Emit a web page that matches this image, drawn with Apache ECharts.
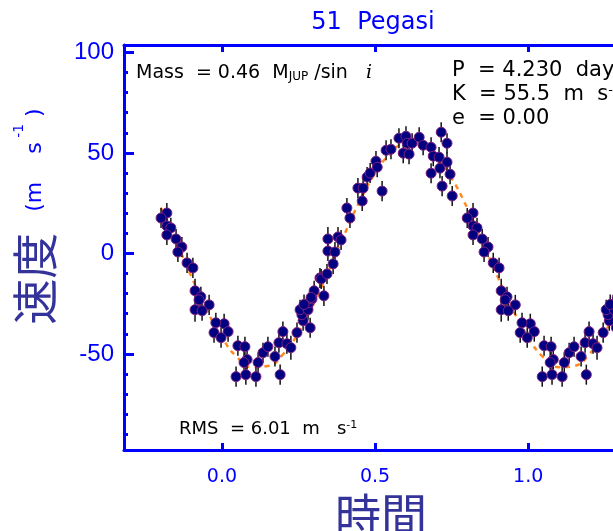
<!DOCTYPE html>
<html lang="en">
<head>
<meta charset="UTF-8">
<title>51 Pegasi</title>
<script src="https://cdn.jsdelivr.net/npm/echarts@6/dist/echarts.min.js"></script>
<style>html,body{margin:0;padding:0;background:#fff;}</style>
</head>
<body>
<div id="main" style="width:613px;height:531px;"></div>
<script>
// phase-folded radial velocities, phase in [0,1)
var phases = [
    0.007, 0.020, 0.052, 0.075, 0.082, 0.072, 0.118, 0.134, 0.150, 0.173,
    0.046, 0.078, 0.111, 0.190, 0.199, 0.186, 0.212, 0.225, 0.245, 0.288,
    0.265, 0.261, 0.255, 0.281, 0.284, 0.294, 0.301, 0.320, 0.291, 0.333,
    0.324, 0.343, 0.363, 0.346, 0.369, 0.346, 0.379, 0.389, 0.408, 0.418,
    0.458, 0.444, 0.461, 0.523, 0.474, 0.484, 0.503, 0.507, 0.536, 0.552,
    0.578, 0.601, 0.605, 0.592, 0.611, 0.621, 0.644, 0.657, 0.683, 0.690,
    0.709, 0.716, 0.735, 0.735, 0.712, 0.683, 0.745, 0.719, 0.752, 0.820,
    0.801, 0.820, 0.833, 0.820, 0.850, 0.869, 0.856, 0.886, 0.905, 0.912,
    0.931, 0.925, 0.958, 0.912, 0.935, 0.980, 0.974, 0.997, 0.268
];
var velocities = [
    -35.0, -38.9, -45.9, -46.4, -52.8, -54.3, -54.3, -49.4, -46.4, -51.3,
    -61.3, -60.3, -61.3, -60.3, -38.9, -44.4, -44.9, -46.9, -39.4, -37.0,
    -33.5, -30.5, -28.0, -28.0, -24.6, -22.6, -18.6, -12.2, -21.9, -21.1,
    -12.7, -10.2, -5.2, 1.2, 0.7, 7.2, 8.2, 6.7, 22.6, 17.6,
    26.1, 32.5, 32.5, 31.0, 38.0, 40.0, 45.9, 42.9, 51.3, 51.8,
    57.3, 58.3, 54.8, 49.9, 49.4, 54.8, 57.8, 53.8, 52.8, 48.4,
    47.9, 60.3, 54.8, 45.4, 42.4, 39.9, 39.4, 33.5, 28.6, 20.1,
    17.6, 13.7, 12.7, 9.2, 7.2, 3.2, 0.7, -4.7, -7.2, -18.6,
    -21.6, -23.1, -25.6, -28.0, -28.5, -34.5, -39.4, -41.9, -25.4
];
var errors = [
    5, 5, 5, 5, 5, 6, 5, 5, 5, 5,
    5, 5, 5, 5, 5, 5, 5, 6, 5, 5,
    5, 5, 5, 5, 5, 5, 5, 5, 5, 5,
    5, 5, 5, 5, 5, 6, 5, 5, 5, 5,
    5, 5, 5, 5, 5, 5, 5, 5, 5, 5,
    5, 5, 5, 5, 5, 5, 5, 5, 5, 5,
    5, 5, 5, 5, 5, 5, 5, 5, 5, 5,
    5, 5, 5, 5, 5, 5, 5, 5, 5, 6,
    5, 5, 5, 6, 5, 5, 5, 5, 5
];
// dashed orbit fit, read every 0.05 in phase
var fitPhases = [
    -0.20, -0.15, -0.10, -0.05, 0.00, 0.05, 0.10, 0.15, 0.20, 0.25, 0.30,
    0.35, 0.40, 0.45, 0.50, 0.55, 0.60, 0.65, 0.70, 0.75, 0.80,
    0.85, 0.90, 0.95, 1.00, 1.05, 1.10, 1.15, 1.20, 1.25, 1.30
];
var fitValues = [
    22.9, 6.0, -11.5, -28.0, -41.8, -51.7, -56.6, -56.0, -50.1, -39.4, -24.9,
    -8.0, 9.5, 26.0, 39.8, 49.7, 54.6, 54.0, 48.1, 37.4, 22.9,
    6.0, -11.5, -28.0, -41.8, -51.7, -56.6, -56.0, -50.1, -39.4, -24.9
];
var xTicks = [0, 0.5, 1.0];
var yTicks = [-50, 0, 50, 100];
var yMinorTicks = [-90, -80, -70, -60, -40, -30, -20, -10, 10, 20, 30, 40, 60, 70, 80, 90];

// repeat the folded data one cycle either side, as in the plot
var points = [];
for (var i = 0; i < phases.length; i++) {
    points.push([phases[i], velocities[i], errors[i]]);
    if (phases[i] >= 0.79) points.push([phases[i] - 1, velocities[i], errors[i]]);
    if (phases[i] <= 0.3) points.push([phases[i] + 1, velocities[i], errors[i]]);
}
var fit = [];
for (var j = 0; j < fitPhases.length; j++) fit.push([fitPhases[j], fitValues[j]]);

var BLUE = '#0000ff';
var XMIN = -0.32, XMAX = 1.3, YMIN = -97.8, YMAX = 103.7;

var myChart = echarts.init(document.getElementById('main'));
var option = {
    animation: false,
    backgroundColor: '#fff',
    title: {
        text: '51  Pegasi',
        left: 373,
        top: 11,
        padding: 0,
        textAlign: 'center',
        textStyle: {color: BLUE, fontSize: 24, fontWeight: 'normal', fontFamily: 'DejaVu Sans'}
    },
    grid: {left: 124, top: 45, right: -7, bottom: 81, containLabel: false, outerBoundsMode: 'none'},
    xAxis: [{
        type: 'value', min: XMIN, max: XMAX, position: 'bottom',
        axisLine: {show: true, onZero: false, lineStyle: {color: BLUE, width: 3}},
        axisTick: {show: true, inside: true, length: 7, customValues: xTicks, lineStyle: {color: BLUE, width: 3}},
        axisLabel: {
            customValues: xTicks, margin: 18, color: BLUE, fontSize: 19, fontFamily: 'DejaVu Sans',
            formatter: function (v) { return v.toFixed(1); }
        },
        splitLine: {show: false},
        name: '時間', nameLocation: 'middle', nameGap: 37,
        nameTextStyle: {color: '#333399', fontSize: 46, fontFamily: 'Noto Sans CJK JP', padding: [0, 0, 0, 18]}
    }, {
        type: 'value', min: XMIN, max: XMAX, position: 'top',
        axisLine: {show: true, onZero: false, lineStyle: {color: BLUE, width: 3}},
        axisTick: {show: true, inside: true, length: 7, customValues: xTicks, lineStyle: {color: BLUE, width: 3}},
        axisLabel: {show: false},
        splitLine: {show: false}
    }],
    yAxis: [{
        type: 'value', min: YMIN, max: YMAX, position: 'left',
        axisLine: {show: true, onZero: false, lineStyle: {color: BLUE, width: 3}},
        axisTick: {show: true, inside: true, length: 10, customValues: yTicks, lineStyle: {color: BLUE, width: 3}},
        axisLabel: {customValues: yTicks, margin: 10, color: BLUE, fontSize: 24, fontFamily: 'Liberation Sans'},
        splitLine: {show: false},
        name: '{a|速度}{b|   (m    s}{c| -1}{b| )}',
        nameLocation: 'middle', nameGap: 66,
        nameTextStyle: {
            fontSize: 22, color: BLUE, padding: [0, 0, 0, 62],
            rich: {
                a: {fontSize: 46, color: '#333399', fontFamily: 'Noto Sans CJK JP'},
                b: {fontSize: 22, color: BLUE, fontFamily: 'DejaVu Sans'},
                c: {fontSize: 14, color: BLUE, fontFamily: 'DejaVu Sans', verticalAlign: 'top'}
            }
        }
    }, {
        type: 'value', min: YMIN, max: YMAX, position: 'left',
        axisLine: {show: false, onZero: false},
        axisTick: {show: true, inside: true, length: 4, customValues: yMinorTicks, lineStyle: {color: BLUE, width: 3}},
        axisLabel: {show: false},
        splitLine: {show: false}
    }],
    graphic: [{
        type: 'text', x: 136, y: 73,
        style: {
            text: '{n|Mass  = 0.46  M}{s|JUP}{n| /sin   }{i|i}',
            verticalAlign: 'middle',
            rich: {
                n: {fontSize: 19, fontFamily: 'DejaVu Sans', fill: '#000'},
                s: {fontSize: 12, fontFamily: 'DejaVu Sans', fill: '#000', verticalAlign: 'bottom'},
                i: {fontSize: 19, fontFamily: 'DejaVu Serif', fontStyle: 'italic', fill: '#000'}
            }
        }
    }, {
        type: 'text', x: 452, y: 71,
        style: {text: 'P  = 4.230  day', font: '21px "DejaVu Sans"', fill: '#000', verticalAlign: 'middle'}
    }, {
        type: 'text', x: 452, y: 95,
        style: {
            text: '{n|K  = 55.5  m  s}{p|-1}', verticalAlign: 'middle',
            rich: {
                n: {fontSize: 21, fontFamily: 'DejaVu Sans', fill: '#000'},
                p: {fontSize: 13, fontFamily: 'DejaVu Sans', fill: '#000', verticalAlign: 'top'}
            }
        }
    }, {
        type: 'text', x: 452, y: 119,
        style: {text: 'e  = 0.00', font: '21px "DejaVu Sans"', fill: '#000', verticalAlign: 'middle'}
    }, {
        type: 'text', x: 179, y: 429,
        style: {
            text: '{n|RMS  = 6.01  m   s}{p|-1}', verticalAlign: 'middle',
            rich: {
                n: {fontSize: 18, fontFamily: 'DejaVu Sans', fill: '#000'},
                p: {fontSize: 11, fontFamily: 'DejaVu Sans', fill: '#000', verticalAlign: 'top'}
            }
        }
    }],
    series: [{
        name: 'fit', type: 'line', data: fit, smooth: true, showSymbol: false, symbol: 'none',
        lineStyle: {color: '#ff8a20', width: 2.5, type: [5, 5]}, z: 1
    }, {
        name: 'err', type: 'custom', data: points, z: 2,
        encode: {x: 0, y: 1},
        renderItem: function (params, api) {
            var x = api.value(0), v = api.value(1), e = api.value(2);
            var a = api.coord([x, v + e]), b = api.coord([x, v - e]);
            return {type: 'line', shape: {x1: a[0], y1: a[1], x2: b[0], y2: b[1]},
                style: {stroke: '#111', lineWidth: 1.5}};
        }
    }, {
        name: 'rv', type: 'scatter', data: points, symbol: 'circle', symbolSize: 10, z: 3,
        itemStyle: {color: '#000080', borderColor: '#802080', borderWidth: 1, opacity: 1}
    }]
};
myChart.setOption(option);
</script>
</body>
</html>
